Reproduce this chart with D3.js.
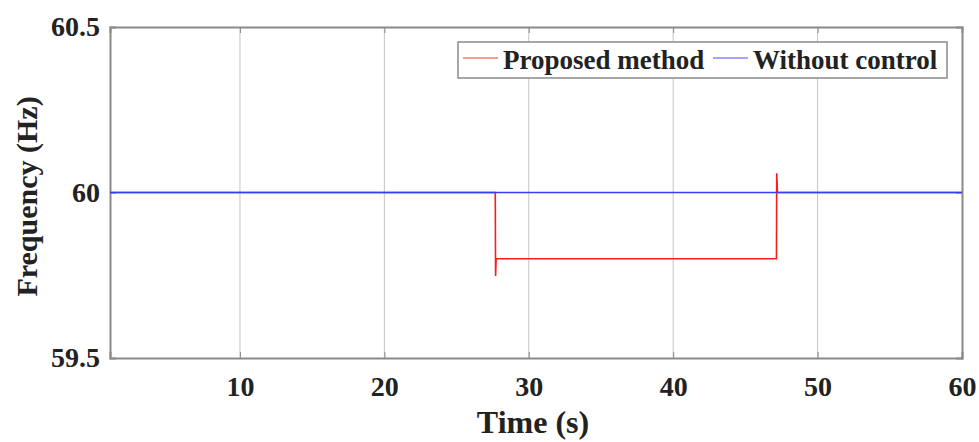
<!DOCTYPE html>
<html><head><meta charset="utf-8">
<script src="https://cdn.jsdelivr.net/npm/d3@7"></script>
<style>
html,body{margin:0;padding:0;background:#fff;}
svg text{font-family:"Liberation Serif","Times New Roman",serif;font-weight:bold;fill:#222;}
</style></head>
<body><svg id="c" width="979" height="442"></svg>
<script>
const timeProposed = [1, 27.68, 27.70, 27.74, 47.15, 47.17, 47.22, 60];
const freqProposed = [60, 60, 59.748, 59.80, 59.80, 60.058, 60.0, 60];
const timeWithout = [1, 60];
const freqWithout = [60, 60];
const xTicks = [10, 20, 30, 40, 50, 60];
const yTicks = [59.5, 60, 60.5];
const seriesNames = ["Proposed method", "Without control"];
const seriesColors = ["#ff1a1a", "#3a3aff"];

const W = 979, H = 442;
const m = {left:110, right:17, top:27, bottom:84};
const svg = d3.select("#c");
const x = d3.scaleLinear().domain([1, 60]).range([m.left, W - m.right]);
const y = d3.scaleLinear().domain([59.5, 60.5]).range([H - m.bottom, m.top]);

// grid
svg.append("g").selectAll("line").data(xTicks.filter(d => d < 60)).join("line")
  .attr("x1", d => x(d)).attr("x2", d => x(d)).attr("y1", y(59.5)).attr("y2", y(60.5))
  .attr("stroke", "#c4c4c4").attr("stroke-width", 1);
svg.append("g").selectAll("line").data(yTicks.filter(d => d > 59.5 && d < 60.5)).join("line")
  .attr("x1", x(1)).attr("x2", x(60)).attr("y1", d => y(d)).attr("y2", d => y(d))
  .attr("stroke", "#c4c4c4").attr("stroke-width", 1);

// axes
const xAxis = svg.append("g").attr("transform", `translate(0,${H - m.bottom})`)
  .call(d3.axisBottom(x).tickValues(xTicks).tickSize(-6).tickPadding(18).tickFormat(d3.format("d")));
const xAxisTop = svg.append("g").attr("transform", `translate(0,${m.top})`)
  .call(d3.axisTop(x).tickValues(xTicks).tickSize(-6).tickFormat(""));
const yAxis = svg.append("g").attr("transform", `translate(${m.left},0)`)
  .call(d3.axisLeft(y).tickValues(yTicks).tickSize(-6).tickPadding(10).tickFormat(d => d === 60 ? "60" : d3.format(".1f")(d)));
const yAxisR = svg.append("g").attr("transform", `translate(${W - m.right},0)`)
  .call(d3.axisRight(y).tickValues(yTicks).tickSize(-6).tickFormat(""));
[xAxis, xAxisTop, yAxis, yAxisR].forEach(g => {
  g.select(".domain").attr("stroke", "#8a8a8a").attr("stroke-width", 2);
  g.selectAll(".tick line").attr("stroke", "#8a8a8a").attr("stroke-width", 1);
  g.selectAll("text").attr("font-size", 28).attr("font-family", "Liberation Serif").attr("font-weight", "bold").attr("fill", "#222");
});
xAxis.selectAll("text").attr("dy", "0.71em");

// lines
const line = d3.line().x(d => x(d[0])).y(d => y(d[1]));
svg.append("path").datum(timeProposed.map((t, i) => [t, freqProposed[i]]))
  .attr("d", line).attr("fill", "none").attr("stroke", seriesColors[0]).attr("stroke-width", 1.6);
svg.append("path").datum(timeWithout.map((t, i) => [t, freqWithout[i]]))
  .attr("d", line).attr("fill", "none").attr("stroke", seriesColors[1]).attr("stroke-width", 1.6);

// axis labels
svg.append("text").attr("x", (m.left + W - m.right) / 2 - 3).attr("y", 433)
  .attr("text-anchor", "middle").attr("font-size", 32).text("Time (s)");
svg.append("text").attr("transform", `translate(26,${(m.top + H - m.bottom) / 2 + 4}) rotate(-90)`)
  .attr("text-anchor", "middle").attr("dy", "0.35em").attr("font-size", 30).text("Frequency (Hz)");

// legend
const lg = svg.append("g");
lg.append("rect").attr("x", 458).attr("y", 42).attr("width", 489).attr("height", 36)
  .attr("fill", "#fff").attr("stroke", "#8a8a8a").attr("stroke-width", 1.5);
const lItems = [{lx: 463, tx: 503}, {lx: 713, tx: 753}];
lItems.forEach((it, i) => {
  lg.append("line").attr("x1", it.lx).attr("x2", it.lx + 35).attr("y1", 58).attr("y2", 58)
    .attr("stroke", seriesColors[i]).attr("stroke-width", 1.6).attr("opacity", 0.6);
  lg.append("text").attr("x", it.tx).attr("y", 60).attr("dy", "0.35em").attr("font-size", 27).text(seriesNames[i]);
});
</script></body></html>
